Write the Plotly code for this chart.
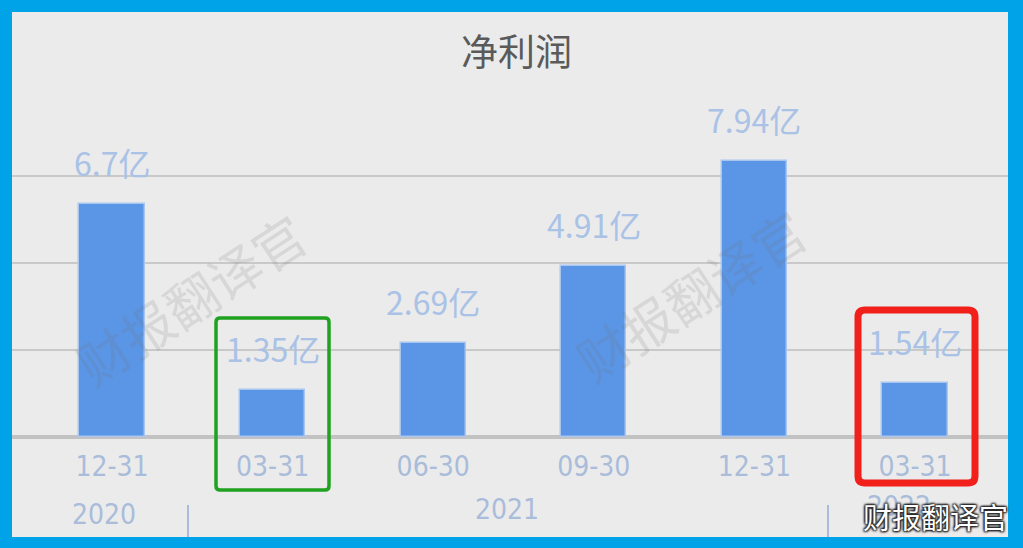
import plotly.graph_objects as go

# ---- data ----
categories = ["12-31", "03-31", "06-30", "09-30", "12-31", "03-31"]
years = ["2020", "2021", "2022"]
values = [6.7, 1.35, 2.69, 4.91, 7.94, 1.54]   # 亿元
labels = ["6.7亿", "1.35亿", "2.69亿", "4.91亿", "7.94亿", "1.54亿"]
title = "净利润"
watermark = "财报翻译官"

# ---- geometry helpers (pixel -> paper) ----
W, H = 1023, 548
ML, MR, MT, MB = 12, 15, 89, 111
PW, PH = W - ML - MR, H - MT - MB


def px(x):
    return (x - ML) / PW


def py(y):
    return (H - MB - y) / PH


def rounded_rect(x0, y0, x1, y1, r):
    X0, X1, Y0, Y1 = px(x0), px(x1), py(y0), py(y1)
    rx, ry = r / PW, r / PH
    return (f"M{X0+rx},{Y0} L{X1-rx},{Y0} Q{X1},{Y0} {X1},{Y0-ry} "
            f"L{X1},{Y1+ry} Q{X1},{Y1} {X1-rx},{Y1} "
            f"L{X0+rx},{Y1} Q{X0},{Y1} {X0},{Y1+ry} "
            f"L{X0},{Y0-ry} Q{X0},{Y0} {X0+rx},{Y0} Z")


xs = list(range(len(categories)))
label_col = "#A9C2E6"
tick_col = "#A9BCDA"
cjk = "Noto Sans CJK SC, Noto Sans, sans-serif"
narrow = "Liberation Sans Narrow, DejaVu Sans Condensed, sans-serif"

fig = go.Figure()
fig.add_trace(go.Bar(
    x=xs, y=values, width=0.405,
    marker=dict(color="#5B96E6", line=dict(color="#A8C6F0", width=1.5)),
    hoverinfo="skip",
))

annotations = []
for x, v, t in zip(xs, values, labels):
    annotations.append(dict(x=x, y=v, xref="x", yref="y", text=t, showarrow=False,
                            xanchor="center", yanchor="middle", yshift=42,
                            font=dict(size=32, color=label_col, family=cjk)))

# title
annotations.append(dict(x=px(516), y=py(50), xref="paper", yref="paper", text=title,
                        showarrow=False, xanchor="center", yanchor="middle",
                        font=dict(size=37, color="#5A5A5A", family=cjk)))
# year labels
year_pos = [(-0.05, 514), (2.46, 509), (4.9, 506)]
for yr, (xd, ypix) in zip(years, year_pos):
    annotations.append(dict(x=xd, y=py(ypix), xref="x", yref="paper", text=yr,
                            showarrow=False, xanchor="center", yanchor="middle",
                            font=dict(size=28, color=tick_col, family=narrow)))
# watermarks
for cx, cy in [(190, 298), (690, 294)]:
    annotations.append(dict(x=px(cx), y=py(cy), xref="paper", yref="paper", text=watermark,
                            showarrow=False, textangle=-33, xanchor="center", yanchor="middle",
                            font=dict(size=52, color="rgba(110,110,110,0.16)", family=cjk)))
annotations.append(dict(x=px(935), y=py(516), xref="paper", yref="paper", text=watermark,
                        showarrow=False, xanchor="center", yanchor="middle",
                        font=dict(size=29, color="white", family=cjk,
                                  shadow="1px 1px 2px #222, -1px -1px 2px #222, 1px -1px 2px #222, -1px 1px 2px #222")))

shapes = [
    # inner background
    dict(type="rect", xref="paper", yref="paper", x0=px(12), x1=px(1008), y0=py(537), y1=py(12),
         fillcolor="#EBEBEB", line=dict(width=0), layer="below"),
    # year separators
    dict(type="line", xref="paper", yref="paper", x0=px(188), x1=px(188), y0=py(505), y1=py(537),
         line=dict(color=tick_col, width=2)),
    dict(type="line", xref="paper", yref="paper", x0=px(828), x1=px(828), y0=py(505), y1=py(537),
         line=dict(color=tick_col, width=2)),
    # highlight boxes
    dict(type="path", xref="paper", yref="paper", path=rounded_rect(216, 318, 329, 490, 4),
         line=dict(color="#1FA21F", width=3.5)),
    dict(type="path", xref="paper", yref="paper", path=rounded_rect(858, 310, 975, 483, 7),
         line=dict(color="#F2201A", width=7)),
]

fig.update_layout(
    width=W, height=H,
    margin=dict(l=ML, r=MR, t=MT, b=MB, pad=0),
    paper_bgcolor="#00A2E8",
    plot_bgcolor="rgba(0,0,0,0)",
    showlegend=False,
    annotations=annotations,
    shapes=shapes,
    bargap=0,
)
fig.update_xaxes(
    range=[(ML - 112) / 160.6, (W - MR - 112) / 160.6],
    tickvals=xs, ticktext=categories,
    tickfont=dict(size=28, color=tick_col, family=narrow),
    ticks="", ticklabelstandoff=10,
    showgrid=False, zeroline=False, showline=False, fixedrange=True,
)
fig.update_yaxes(
    range=[0, 10], dtick=2.5, showticklabels=False,
    showgrid=True, gridcolor="#C9C9C9", gridwidth=2,
    zeroline=True, zerolinecolor="#C2C2C2", zerolinewidth=4,
    fixedrange=True,
)

fig.write_html("out.html", config={"displayModeBar": False},
               post_script="document.body.style.margin='0';document.body.style.overflow='hidden';")
